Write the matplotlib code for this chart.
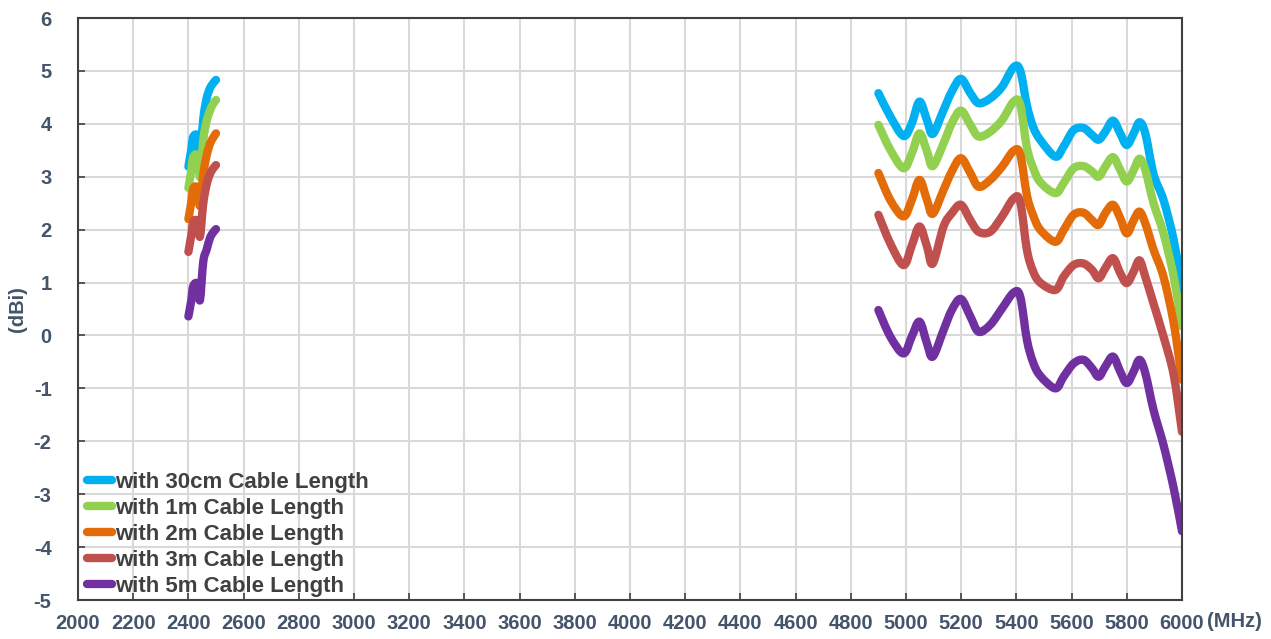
import numpy as np
import matplotlib
matplotlib.use("Agg")
import matplotlib.pyplot as plt
from matplotlib.path import Path
from matplotlib.patches import PathPatch
from matplotlib.lines import Line2D

# =====================================================
# DATA
# =====================================================

labels = [
    "with 30cm Cable Length",
    "with 1m Cable Length",
    "with 2m Cable Length",
    "with 3m Cable Length",
    "with 5m Cable Length",
]
colors = ["#00B0F0", "#92D050", "#E36C09", "#C0504D", "#7030A0"]

# 2.4 GHz band
freq_24 = [2400, 2410, 2418, 2434, 2442, 2454, 2466, 2478, 2490, 2500]
blue_24 = [3.19, 3.50, 3.76, 3.76, 3.38, 4.10, 4.48, 4.67, 4.77, 4.83]
green_24 = [2.79, 3.10, 3.38, 3.38, 3.00, 3.70, 4.05, 4.25, 4.38, 4.45]
orange_24 = [2.20, 2.50, 2.78, 2.78, 2.45, 3.05, 3.40, 3.62, 3.74, 3.82]
red_24 = [1.58, 1.88, 2.15, 2.15, 1.87, 2.50, 2.85, 3.05, 3.16, 3.22]
purple_24 = [0.36, 0.65, 0.94, 0.97, 0.67, 1.40, 1.62, 1.84, 1.95, 2.01]

# 5 GHz band
freq_5 = [4900, 4943, 4991, 5021, 5049, 5076, 5097, 5136, 5166, 5199,
          5233, 5263, 5305, 5348, 5390, 5414, 5438, 5460, 5486, 5541,
          5571, 5607, 5643, 5674, 5698, 5722, 5750, 5776, 5800, 5825,
          5846, 5867, 5897, 5933, 5970, 6000]
blue_5 = [4.58, 4.14, 3.77, 4.01, 4.42, 4.07, 3.81, 4.26, 4.61, 4.85,
          4.58, 4.39, 4.48, 4.70, 5.07, 5.00, 4.35, 3.95, 3.70, 3.38,
          3.57, 3.88, 3.92, 3.79, 3.70, 3.85, 4.06, 3.82, 3.60, 3.82,
          4.03, 3.82, 3.05, 2.56, 1.80, 0.86]
green_5 = [3.98, 3.51, 3.16, 3.44, 3.82, 3.48, 3.20, 3.63, 4.01, 4.25,
           3.98, 3.76, 3.85, 4.07, 4.42, 4.36, 3.55, 3.18, 2.90, 2.69,
           2.88, 3.16, 3.20, 3.10, 3.00, 3.19, 3.37, 3.13, 2.91, 3.13,
           3.34, 3.13, 2.50, 1.93, 1.11, 0.17]
orange_5 = [3.07, 2.56, 2.25, 2.56, 2.94, 2.56, 2.30, 2.75, 3.10, 3.35,
            3.07, 2.81, 2.94, 3.19, 3.49, 3.42, 2.65, 2.28, 2.00, 1.77,
            1.99, 2.28, 2.32, 2.18, 2.09, 2.31, 2.47, 2.22, 1.93, 2.18,
            2.34, 2.12, 1.62, 1.11, 0.23, -0.84]
red_5 = [2.28, 1.74, 1.33, 1.70, 2.06, 1.68, 1.36, 2.06, 2.31, 2.47,
         2.18, 1.96, 1.96, 2.25, 2.59, 2.52, 1.62, 1.22, 1.00, 0.86,
         1.11, 1.33, 1.36, 1.24, 1.08, 1.27, 1.46, 1.18, 0.99, 1.21,
         1.42, 1.11, 0.60, -0.02, -0.75, -1.82]
purple_5 = [0.48, -0.02, -0.34, -0.02, 0.26, -0.15, -0.40, 0.10, 0.48, 0.69,
            0.36, 0.07, 0.20, 0.51, 0.81, 0.73, -0.08, -0.50, -0.76, -1.00,
            -0.78, -0.53, -0.46, -0.62, -0.78, -0.59, -0.40, -0.68, -0.90, -0.68,
            -0.46, -0.71, -1.41, -2.07, -2.89, -3.70]

series_24 = [blue_24, green_24, orange_24, red_24, purple_24]
series_5 = [blue_5, green_5, orange_5, red_5, purple_5]

x_ticks = list(range(2000, 6001, 200))
y_ticks = list(range(-5, 7))


# smoothed line like Excel's "smoothed line" option:
# cubic Bezier segments through the points (Catmull-Rom control points)
def smooth_path(xs, ys):
    pts = np.column_stack([xs, ys]).astype(float)
    n = len(pts)
    verts = [pts[0]]
    codes = [Path.MOVETO]
    for i in range(n - 1):
        p0 = pts[max(i - 1, 0)]
        p1 = pts[i]
        p2 = pts[i + 1]
        p3 = pts[min(i + 2, n - 1)]
        c1 = p1 + (p2 - p0) / 6.0
        c2 = p2 - (p3 - p1) / 6.0
        verts += [c1, c2, p2]
        codes += [Path.CURVE4] * 3
    return Path(verts, codes)


# =====================================================
# PLOT
# =====================================================

plt.rcParams["font.family"] = ["Liberation Sans", "DejaVu Sans"]
plt.rcParams["font.weight"] = "bold"
plt.rcParams["axes.unicode_minus"] = False

label_color = "#44546A"
spine_color = "#404040"
lw = 6

fig = plt.figure(figsize=(12.71, 6.39), dpi=100)
ax = fig.add_axes([78 / 1271, 39 / 639, 1104 / 1271, 582 / 639])

handles = []
for lab, col, y24, y5 in zip(labels, colors, series_24, series_5):
    for xs, ys in ((freq_24, y24), (freq_5, y5)):
        ax.add_patch(PathPatch(smooth_path(xs, ys), facecolor="none",
                               edgecolor=col, linewidth=lw,
                               capstyle="round", joinstyle="round"))
    handles.append(Line2D([], [], color=col, linewidth=lw,
                          solid_capstyle="round", label=lab))

ax.set_xlim(2000, 6000)
ax.set_ylim(-5, 6)
ax.set_xticks(x_ticks)
ax.set_yticks(y_ticks)

ax.grid(True, color="#D9D9D9", linewidth=1.5)
ax.set_axisbelow(True)

for sp in ax.spines.values():
    sp.set_color(spine_color)
    sp.set_linewidth(1.5)

ax.tick_params(axis="both", direction="in", length=5, width=1.2,
               color=spine_color, labelsize=14.5, labelcolor=label_color)
ax.tick_params(axis="x", pad=10)
ax.tick_params(axis="y", pad=19)
for t in ax.get_xticklabels() + ax.get_yticklabels():
    t.set_fontweight("bold")

ax.set_ylabel("(dBi)", fontsize=14.5, fontweight="bold", color=label_color)
ax.yaxis.set_label_coords(-0.046, 0.5)

ax.text(1.0226, -0.037, "(MHz)", transform=ax.transAxes, fontsize=14.5,
        fontweight="bold", color=label_color, ha="left", va="center")

leg = ax.legend(handles=handles, loc="lower left",
                bbox_to_anchor=(-0.002, -0.014), frameon=False,
                fontsize=16, handlelength=1.15, handletextpad=0.12,
                labelspacing=0.23, borderaxespad=0.3, borderpad=0.2)
for txt in leg.get_texts():
    txt.set_color("#404040")
    txt.set_fontweight("bold")

fig.savefig("out.png", dpi=100)
